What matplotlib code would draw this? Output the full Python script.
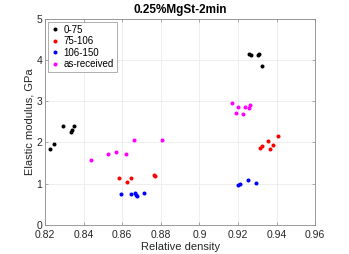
import matplotlib
matplotlib.use("Agg")
import matplotlib.pyplot as plt

title = "0.25%MgSt-2min"
x_label = "Relative density"
y_label = "Elastic modulus, GPa"

labels = ["0-75", "75-106", "106-150", "as-received"]
colors = ["black", "red", "blue", "magenta"]

x_0_75 = [0.8224, 0.8245, 0.8295, 0.8335, 0.8338, 0.8349, 0.9258, 0.9270, 0.9305, 0.9310, 0.9325]
y_0_75 = [1.84, 1.96, 2.40, 2.26, 2.30, 2.40, 4.15, 4.13, 4.13, 4.16, 3.85]

x_75_106 = [0.8582, 0.8625, 0.8648, 0.8764, 0.8770, 0.9313, 0.9327, 0.9355, 0.9367, 0.9382, 0.9406]
y_75_106 = [1.14, 1.04, 1.14, 1.21, 1.18, 1.87, 1.92, 2.03, 1.85, 1.93, 2.15]

x_106_150 = [0.8594, 0.8644, 0.8665, 0.8674, 0.8677, 0.8715, 0.9202, 0.9210, 0.9253, 0.9293]
y_106_150 = [0.74, 0.75, 0.77, 0.72, 0.70, 0.78, 0.97, 0.98, 1.08, 1.02]

x_asrec = [0.8440, 0.8525, 0.8568, 0.8620, 0.8661, 0.8805, 0.9169, 0.9200, 0.9191, 0.9226, 0.9236, 0.9255, 0.9262]
y_asrec = [1.57, 1.73, 1.76, 1.73, 2.07, 2.06, 2.95, 2.86, 2.72, 2.69, 2.87, 2.83, 2.91]

xticks = [0.82, 0.84, 0.86, 0.88, 0.9, 0.92, 0.94, 0.96]
xticklabels = ["0.82", "0.84", "0.86", "0.88", "0.9", "0.92", "0.94", "0.96"]
yticks = [0, 1, 2, 3, 4, 5]

plt.rcParams['font.family'] = ['Liberation Sans', 'DejaVu Sans']

fig = plt.figure(figsize=(3.49, 2.54), dpi=100)
ax = fig.add_axes([0.129, 0.115, 0.774, 0.810])

series = [(x_0_75, y_0_75), (x_75_106, y_75_106), (x_106_150, y_106_150), (x_asrec, y_asrec)]
for (xs, ys), lab, c in zip(series, labels, colors):
    ax.plot(xs, ys, linestyle='none', marker='o', markersize=2.9, color=c,
            markeredgewidth=0, label=lab)

ax.set_xlim(0.82, 0.96)
ax.set_ylim(0, 5)
ax.set_xticks(xticks)
ax.set_xticklabels(xticklabels)
ax.set_yticks(yticks)
ax.grid(True, color='#ebebeb', linewidth=0.6)
ax.set_axisbelow(True)
ax.tick_params(direction='in', length=2.5, width=0.5, labelsize=7.5,
               color='#8a8a8a', labelcolor='#262626', top=True, right=True)
ax.tick_params(axis='x', pad=4)
ax.tick_params(axis='y', pad=2)
for s in ax.spines.values():
    s.set_color('#8a8a8a')
    s.set_linewidth(0.6)
ax.set_xlabel(x_label, fontsize=8, labelpad=1.5, color='#262626')
ax.set_ylabel(y_label, fontsize=8, labelpad=1, color='#262626')
ax.set_title(title, fontsize=8.5, fontweight='bold', pad=4)

leg = ax.legend(loc='upper left', fontsize=7, frameon=True, fancybox=False,
                edgecolor='#8a8a8a', handlelength=0.8, handletextpad=0.5,
                borderpad=0.3, labelspacing=0.15, borderaxespad=0.3,
                markerscale=1.0)
leg.get_frame().set_linewidth(0.6)

fig.savefig("out.png", dpi=100, facecolor='white')
